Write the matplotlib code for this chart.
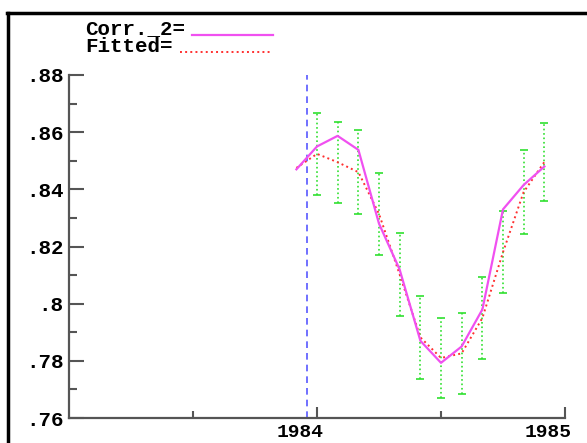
import matplotlib.pyplot as plt
from matplotlib.lines import Line2D
from matplotlib.ticker import FixedLocator

# monthly dates, Dec 1983 .. Nov 1984
dates = [1983.917, 1984.0, 1984.083, 1984.167, 1984.25, 1984.333, 1984.417,
         1984.5, 1984.583, 1984.667, 1984.75, 1984.833, 1984.917]
corr2 = [.847, .855, .8587, .8538, .828, .812, .787,
         .7793, .785, .798, .833, .8415, .848]
fitted = [.8475, .8524, .8495, .846, .8314, .8103, .7882,
          .781, .7826, .795, .818, .839, .8496]
err = [.0144, .0142, .0146, .0144, .0145, .0145,
       .0140, .0142, .0144, .0144, .0146, .0137]
forecast_start = 1983.96

xticks = [1984, 1985]
xlabels = ['1984', '1985']
yticks = [.76, .78, .80, .82, .84, .86, .88]
ylabels = ['.76', '.78', '.8', '.82', '.84', '.86', '.88']

font = 'Liberation Mono'
magenta = '#f050f0'
red = '#ff3030'
green = '#30e030'
blue = '#5858ff'
axcol = '#555555'

W, H = 587, 443
fig = plt.figure(figsize=(W / 100, H / 100), dpi=100)
ax = fig.add_axes([69 / W, (H - 418) / H, (565 - 69) / W, (418 - 75) / H])

ax.axvline(forecast_start, color=blue, lw=1.2, ls=(0, (4, 3)))
eb = ax.errorbar(dates[1:], fitted[1:], yerr=err, fmt='none', ecolor=green,
                 elinewidth=1.2, capsize=3, capthick=1.2)
eb[2][0].set_linestyle(':')
ax.plot(dates, fitted, color=red, lw=1.4, ls=':')
ax.plot(dates, corr2, color=magenta, lw=1.6)

ax.set_xlim(1983.0, 1985.0)
ax.set_ylim(.76, .88)
for s in ['top', 'right']:
    ax.spines[s].set_visible(False)
for s in ['left', 'bottom']:
    ax.spines[s].set_color(axcol)
    ax.spines[s].set_linewidth(1.6)

ax.set_xticks(xticks)
ax.set_xticklabels([])
ax.xaxis.set_minor_locator(FixedLocator([1983.5, 1984.5]))
ax.set_yticks(yticks)
ax.set_yticklabels(ylabels)
ax.yaxis.set_minor_locator(FixedLocator([.77, .79, .81, .83, .85, .87]))
ax.tick_params(axis='both', which='both', direction='in', color=axcol, width=1.5)
ax.tick_params(axis='x', which='major', length=8)
ax.tick_params(axis='x', which='minor', length=5)
ax.tick_params(axis='y', which='major', length=11, pad=4)
ax.tick_params(axis='y', which='minor', length=6)
for lab in ax.get_yticklabels():
    lab.set_fontfamily(font)
    lab.set_fontweight('bold')
    lab.set_fontsize(15)

# year labels sit slightly right-aligned to their ticks
for xt, lab in zip(xticks, xlabels):
    ax.annotate(lab, xy=(xt, 0), xycoords=('data', 'axes fraction'),
                xytext=(5, -4.5), textcoords='offset points', ha='right', va='top',
                family=font, weight='bold', fontsize=14, annotation_clip=False)

# legend written at the top, like the original
fig.text(85 / W, 1 - 29 / H, 'Corr._2=', family=font, weight='bold',
         fontsize=15, va='center', ha='left')
fig.text(85 / W, 1 - 47 / H, 'Fitted=', family=font, weight='bold',
         fontsize=15, va='center', ha='left')
fig.add_artist(Line2D([192 / W, 273 / W], [1 - 35 / H, 1 - 35 / H],
                      color=magenta, lw=1.6))
fig.add_artist(Line2D([180 / W, 272 / W], [1 - 52 / H, 1 - 52 / H],
                      color=red, lw=1.4, ls=':'))

# frame lines (top and left)
fig.add_artist(Line2D([7 / W, 1], [1 - 13 / H, 1 - 13 / H], color='black', lw=2.5))
fig.add_artist(Line2D([8 / W, 8 / W], [0, 1 - 13 / H], color='black', lw=2.5))

fig.savefig('out.png', dpi=100)
